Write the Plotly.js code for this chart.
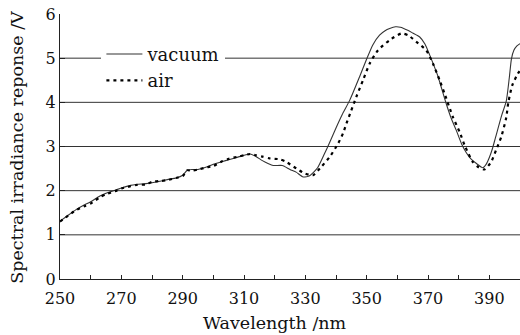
<!DOCTYPE html>
<html>
<head>
<meta charset="utf-8">
<script src="https://cdn.plot.ly/plotly-3.0.1.min.js"></script>
<style>html,body{margin:0;padding:0;background:#fff;}</style>
</head>
<body>
<div id="chart" style="width:520px;height:335px;"></div>
<script>
// Wavelength (nm) and response (V)
const wavelengthVacuum = [250,252,255,258,260,263,265,268,270,273,275,278,280,283,285,288,290,291.5,293,295,298,300,303,305,308,310,312,314,316,318,319.5,322.5,325,327,329.3,331.4,334,336,338,340,342,344.5,347.7,350,352,354.2,356,357.5,359.4,361,363.4,365,367.3,369,370.5,372,373.2,374.5,375.9,377.5,379.2,381,382.5,384,385.7,387.9,389,390,391,392,394,395.5,396.5,397.2,398,399,400];
const vacuum = [1.31,1.41,1.56,1.68,1.75,1.88,1.94,2.01,2.06,2.12,2.14,2.16,2.18,2.22,2.25,2.29,2.35,2.46,2.48,2.48,2.54,2.60,2.66,2.70,2.76,2.80,2.83,2.77,2.68,2.61,2.57,2.57,2.48,2.42,2.31,2.34,2.52,2.80,3.10,3.42,3.72,4.05,4.58,4.98,5.30,5.52,5.62,5.67,5.71,5.70,5.63,5.57,5.48,5.32,5.08,4.82,4.60,4.30,3.98,3.65,3.37,3.05,2.86,2.72,2.62,2.52,2.60,2.75,2.95,3.20,3.70,4.02,4.55,4.98,5.18,5.28,5.33];
const wavelengthAir = [250,252,255,258,260,263,265,268,270,273,275,278,280,283,285,288,290,291.5,293,295,298,300,303,305,308,310,312,314,316,318.4,321.7,323.8,327.1,329.8,332.5,335.2,338,340.7,342.3,343.4,345,346.6,348.8,351,353.7,357.5,361.3,363.5,366.2,369.4,371.6,373.8,375.4,378.1,380.3,382,384.6,386.5,388.4,390.6,392.2,393.9,395.5,396.2,397.5,399.3,400];
const air = [1.30,1.40,1.55,1.65,1.71,1.85,1.92,1.99,2.05,2.10,2.13,2.14,2.20,2.22,2.24,2.29,2.33,2.46,2.45,2.48,2.53,2.56,2.67,2.72,2.77,2.80,2.83,2.80,2.77,2.73,2.71,2.65,2.50,2.39,2.35,2.54,2.77,3.07,3.30,3.52,3.82,4.12,4.50,4.88,5.18,5.41,5.56,5.52,5.37,5.18,4.88,4.50,4.20,3.67,3.33,3.02,2.65,2.53,2.48,2.65,2.92,3.22,3.65,4.0,4.39,4.65,4.72];
const seriesNames = ["vacuum", "air"];
const gridValues = [1, 2, 3, 4, 5];
const xTickValues = [250, 270, 290, 310, 330, 350, 370, 390];
const yTickValues = [0, 1, 2, 3, 4, 5, 6];
const xTitle = "Wavelength /nm";
const yTitle = "Spectral irradiance reponse /V";

const FONT = "DejaVu Serif, Liberation Serif, serif";

const traces = [
  {x: wavelengthVacuum, y: vacuum, name: seriesNames[0], type: "scatter", mode: "lines",
   line: {color: "#333", width: 1.1, shape: "spline", smoothing: 0.6}},
  {x: wavelengthAir, y: air, name: seriesNames[1], type: "scatter", mode: "lines",
   line: {color: "#000", width: 2.2, dash: "3px,4px", shape: "spline", smoothing: 0.6}}
];

const shapes = gridValues.map(v => ({
  type: "line", xref: "paper", yref: "y", x0: 0, x1: 1, y0: v, y1: v,
  line: {color: "#333", width: 1}, layer: "below"
}));

const layout = {
  width: 520, height: 335,
  margin: {l: 60, r: 0, t: 14, b: 56},
  paper_bgcolor: "#fff", plot_bgcolor: "#fff",
  font: {family: FONT, size: 16, color: "#111"},
  showlegend: true,
  legend: {x: 0.09, y: 0.918, xanchor: "left", yanchor: "top", bgcolor: "#fff",
           itemwidth: 36, tracegroupgap: 0,
           font: {family: FONT, size: 18, color: "#111"}},
  xaxis: {
    range: [250, 400], showgrid: false, zeroline: false,
    showline: true, linecolor: "#222", linewidth: 1,
    tickvals: xTickValues, ticks: "inside", ticklen: 4, tickcolor: "#222",
    ticklabelstandoff: 5,
    minor: {dtick: 10, tick0: 250, ticks: "inside", ticklen: 4, tickcolor: "#222"},
    tickfont: {family: FONT, size: 16, color: "#111"}
  },
  yaxis: {
    range: [0, 6], showgrid: false, zeroline: false,
    showline: true, linecolor: "#222", linewidth: 1,
    tickvals: yTickValues, ticks: "inside", ticklen: 5, tickcolor: "#222",
    tickfont: {family: FONT, size: 16, color: "#111"}
  },
  annotations: [
    {text: xTitle, xref: "paper", yref: "paper", x: 0.467, y: -0.165,
     xanchor: "center", yanchor: "middle", showarrow: false,
     font: {family: FONT, size: 17.5, color: "#111"}},
    {text: yTitle, xref: "paper", yref: "paper", x: -0.0935, y: 0.499,
     xanchor: "center", yanchor: "middle", textangle: -90, showarrow: false,
     font: {family: FONT, size: 17.5, color: "#111"}}
  ],
  shapes: shapes
};

Plotly.newPlot("chart", traces, layout, {displayModeBar: false, staticPlot: true});
</script>
</body>
</html>
